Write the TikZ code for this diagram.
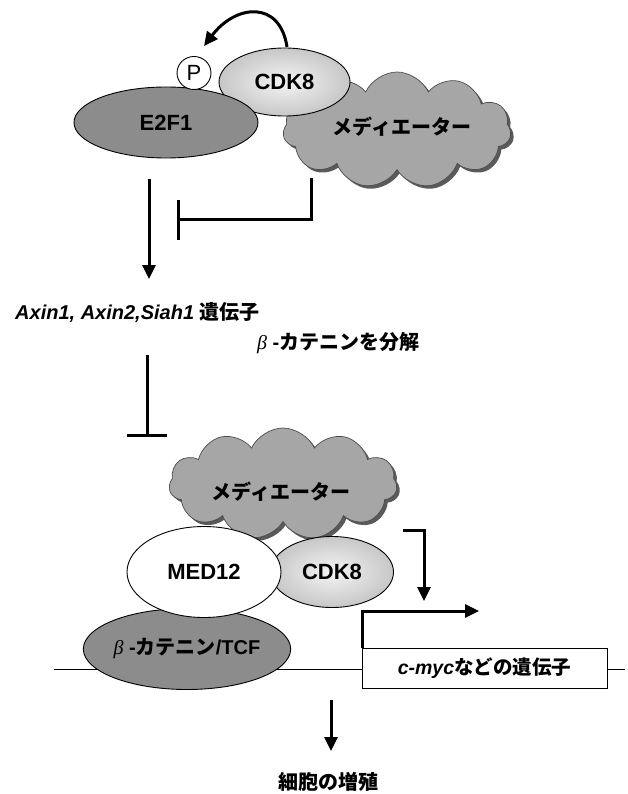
\documentclass[tikz,border=0pt]{standalone}
\usepackage{fontspec}
\setmainfont{Liberation Sans}
\newfontfamily\jp{Noto Sans CJK JP}
\newfontfamily\grk{Liberation Serif}
\usetikzlibrary{shapes.geometric,shapes.symbols,arrows.meta}
\definecolor{dgray}{HTML}{8C8C8C}
\definecolor{cloudgray}{HTML}{A6A6A6}
\definecolor{shadowgray}{HTML}{5A5A5A}
\definecolor{cdkin}{HTML}{F4F4F4}
\definecolor{cdkout}{HTML}{9A9A9A}
\pgfdeclareradialshading{cdkshade}{\pgfpoint{0bp}{0bp}}{color(0bp)=(cdkin); color(50bp)=(cdkout)}
\newcommand{\fsz}{\fontsize{20}{24}\selectfont}
\newcommand{\fbig}{\fontsize{22}{26}\selectfont}
\tikzset{
  protein/.style={ellipse, draw=black, line width=0.9pt, inner sep=0pt, font=\fbig\bfseries},
  cloudbox/.style={cloud, cloud puffs=11, cloud puff arc=130, cloud ignores aspect, fill=cloudgray, draw=black!70, line width=0.7pt, inner sep=0pt},
  cloudshadow/.style={cloudbox, fill=shadowgray, draw=none},
  label/.style={inner sep=0pt, font=\fsz\bfseries},
  conn/.style={line width=3pt},
  arr/.style={conn, -{Triangle[length=14pt,width=13pt]}},
  inhib/.style={conn, -{Bar[width=40pt]}},
}
\begin{document}
\begin{tikzpicture}[x=1pt,y=-1pt]
\useasboundingbox (0,0) rectangle (627,794);

% ---------- top complex ----------
\node[cloudshadow, minimum width=228pt, minimum height=116pt] (cloud1s) at (400,133) {};
\node[cloudbox, minimum width=228pt, minimum height=116pt] (cloud1) at (397,130) {};
\node[label] (med1) at (402,127) {\jp メディエーター};
\node[protein, shading=cdkshade, minimum width=131pt, minimum height=68pt] (cdk1) at (284.5,82) {CDK8};
\node[protein, fill=dgray, minimum width=184pt, minimum height=71pt] (e2f1) at (166,122.5) {E2F1};
\node[ellipse, draw=black, line width=0.9pt, fill=white, inner sep=0pt, minimum width=34pt, minimum height=33pt, font=\fbig] (p) at (194,73) {P};

% curved phosphorylation arrow
\coordinate (cs) at (287,47);
\coordinate (ce) at (204,46);
\draw[arr] (cs) .. controls (280,0) and (236,4) .. (ce);

% E2F1 -> genes
\coordinate (a1s) at (149,179);
\coordinate (a1e) at (149,279);
\draw[arr] (a1s) -- (a1e);

% mediator inhibition
\coordinate (i1s) at (311,178);
\coordinate (i1c) at (311,220);
\coordinate (i1e) at (177,220);
\draw[inhib, line join=miter] (i1s) -- (i1c) -- (i1e);

% texts
\node[label, anchor=west] (genes) at (15,313) {\itshape Axin1, Axin2,Siah1 {\upshape\jp 遺伝子}};
\node[label, anchor=west] (degr) at (257,343) {{\grk\mdseries\itshape β} -{\jp カテニンを分解}};

% inhibition of beta-catenin complex
\coordinate (i2s) at (147,355);
\coordinate (i2e) at (147,437);
\draw[inhib] (i2s) -- (i2e);

% ---------- bottom complex ----------
\coordinate (dnal) at (54,669);
\coordinate (dnar) at (625,669);
\draw[line width=0.9pt] (dnal) -- (dnar);
\node[draw=black, line width=0.9pt, fill=white, minimum width=245pt, minimum height=40pt, inner sep=0pt, font=\fontsize{19.5}{23}\selectfont\bfseries] (gene) at (484.5,668) {{\itshape c-myc}{\jp などの遺伝子}};

\node[cloudshadow, minimum width=228pt, minimum height=112pt] (cloud2s) at (286,487) {};
\node[cloudbox, minimum width=228pt, minimum height=112pt] (cloud2) at (283,484) {};
\node[label] (med2) at (281,492) {\jp メディエーター};
\node[protein, shading=cdkshade, minimum width=123pt, minimum height=71pt] (cdk2) at (332,572) {CDK8};
\node[protein, fill=dgray, minimum width=197pt, minimum height=81pt, font=\fsz\bfseries] (bcat) at (187,649) {{\grk\mdseries\itshape β} -{\jp カテニン}/TCF};
\node[protein, fill=white, minimum width=154pt, minimum height=91pt] (med12) at (204,572) {MED12};

% mediator -> promoter
\coordinate (a2s) at (403,530);
\coordinate (a2c) at (424,530);
\coordinate (a2e) at (424,601);
\draw[arr, line join=miter] (a2s) -- (a2c) -- (a2e);

% promoter arrow
\coordinate (ps) at (362,648);
\coordinate (pc) at (362,611);
\coordinate (pe) at (479,611);
\draw[arr, line join=miter] (ps) -- (pc) -- (pe);

% proliferation
\coordinate (a3s) at (331,700);
\coordinate (a3e) at (331,751);
\draw[arr] (a3s) -- (a3e);
\node[label] (prolif) at (328,782) {\jp 細胞の増殖};
\end{tikzpicture}
\end{document}
